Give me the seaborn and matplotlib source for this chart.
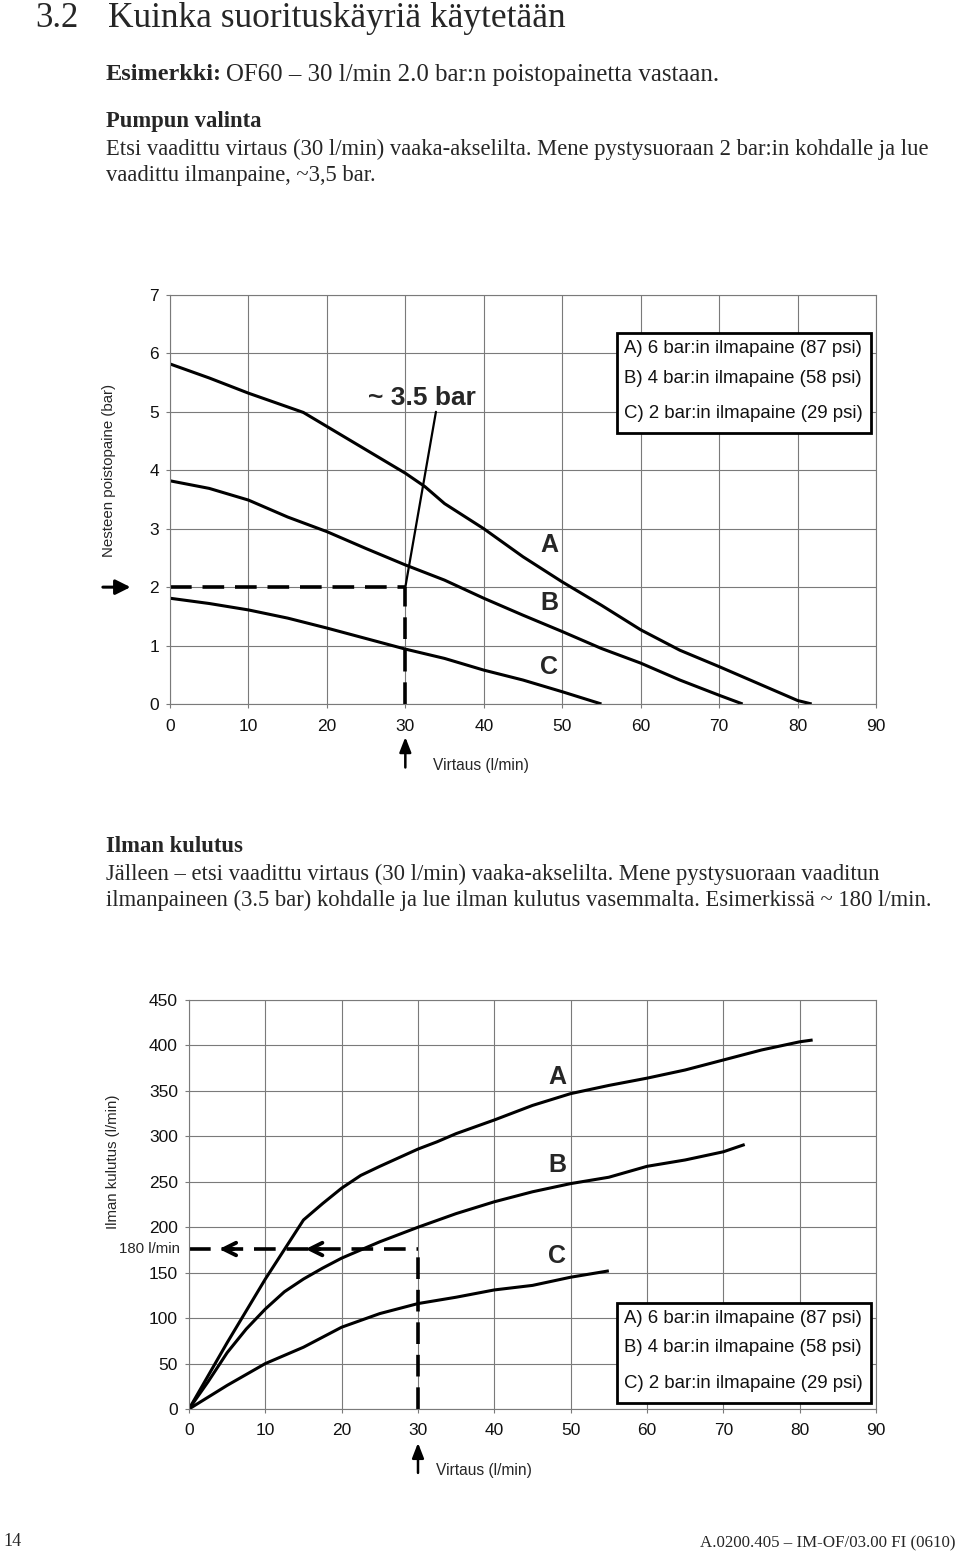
import numpy as np
import pandas as pd
import matplotlib
matplotlib.use("Agg")
import matplotlib.pyplot as plt
from matplotlib.patches import Rectangle
import seaborn as sns

# --- data --------------------------------------------------------------
# discharge pressure (bar) vs flow (l/min)
press_a_x = [0, 5, 10, 17, 20, 25, 30, 32.5, 35, 40, 45, 50, 55, 60, 65, 70, 75, 80, 81.8]
press_a_y = [5.82, 5.58, 5.32, 4.99, 4.75, 4.35, 3.95, 3.72, 3.43, 3.0, 2.52, 2.09, 1.69, 1.27, 0.92, 0.64, 0.35, 0.06, 0.0]
press_b_x = [0, 5, 10, 15, 20, 25, 30, 35, 40, 45, 50, 55, 60, 65, 70, 73]
press_b_y = [3.82, 3.69, 3.49, 3.2, 2.95, 2.66, 2.38, 2.12, 1.81, 1.52, 1.24, 0.95, 0.70, 0.41, 0.15, 0.0]
press_c_x = [0, 5, 10, 15, 20, 25, 30, 35, 40, 45, 50, 55]
press_c_y = [1.81, 1.72, 1.61, 1.47, 1.30, 1.12, 0.94, 0.78, 0.58, 0.41, 0.21, 0.0]

# air consumption (l/min) vs flow (l/min)
air_a_x = [0, 5, 10, 15, 17.5, 20, 22.5, 25, 30, 32.5, 35, 40, 45, 50, 55, 60, 65, 70, 75, 80, 81.7]
air_a_y = [0, 73, 143, 208, 226, 243, 257, 267, 286, 294, 303, 318, 334, 347, 356, 364, 373, 384, 395, 404, 406]
air_b_x = [0, 2.5, 5, 7.5, 10, 12.5, 15, 17.5, 20, 25, 30, 35, 40, 45, 50, 55, 60, 65, 70, 72.8]
air_b_y = [0, 30, 62, 88, 110, 129, 143, 155, 166, 184, 200, 215, 228, 239, 248, 255, 267, 274, 283, 291]
air_c_x = [0, 5, 10, 15, 20, 25, 30, 35, 40, 45, 50, 55]
air_c_y = [0, 26, 50, 68, 90, 105, 116, 123, 131, 136, 145, 152]

curve_names = ["A", "B", "C"]
legend_lines = ["A) 6 bar:in ilmapaine (87 psi)",
                "B) 4 bar:in ilmapaine (58 psi)",
                "C) 2 bar:in ilmapaine (29 psi)"]
x_ticks = list(range(0, 100, 10))
press_ticks = list(range(0, 8))
air_ticks = list(range(0, 500, 50))

example_flow = 30
example_press = 2.0
example_air = 176

press_df = pd.concat([
    pd.DataFrame({"flow": press_a_x, "value": press_a_y, "curve": "A"}),
    pd.DataFrame({"flow": press_b_x, "value": press_b_y, "curve": "B"}),
    pd.DataFrame({"flow": press_c_x, "value": press_c_y, "curve": "C"}),
])
air_df = pd.concat([
    pd.DataFrame({"flow": air_a_x, "value": air_a_y, "curve": "A"}),
    pd.DataFrame({"flow": air_b_x, "value": air_b_y, "curve": "B"}),
    pd.DataFrame({"flow": air_c_x, "value": air_c_y, "curve": "C"}),
])

# --- style ----------------------------------------------------------------
sns.set_style("whitegrid")
plt.rcParams["font.family"] = ["Liberation Sans", "DejaVu Sans"]
GRID = "#7a7a7a"
SERIF = ["Liberation Serif", "DejaVu Serif"]
BODY = 16.3

W, H = 960, 1559
fig = plt.figure(figsize=(W / 100, H / 100), dpi=100)


def px(x, y):
    return x / W, 1 - y / H


def make_axes(left, right, top, bottom):
    return fig.add_axes([left / W, 1 - bottom / H, (right - left) / W, (bottom - top) / H])


def style_axes(ax, yticks, ymax, xpad):
    ax.set_xlim(0, 90)
    ax.set_ylim(0, ymax)
    ax.set_xticks(x_ticks)
    ax.set_yticks(yticks)
    ax.grid(True, color=GRID, lw=0.8)
    for s in ax.spines.values():
        s.set_color(GRID)
        s.set_linewidth(0.8)
    ax.tick_params(axis="both", which="both", direction="out", length=3,
                   width=0.8, color=GRID, labelsize=12.5, labelcolor="#111111",
                   left=True, bottom=True)
    ax.tick_params(axis="x", pad=xpad)
    ax.tick_params(axis="y", pad=5)
    ax.set_xlabel("")
    ax.set_ylabel("")
    leg = ax.get_legend()
    if leg is not None:
        leg.remove()


def legend_box(ax, x0, x1, y0, y1, text_x, text_ys):
    ax.add_patch(Rectangle((x0, y0), x1 - x0, y1 - y0, transform=ax.transAxes,
                           facecolor="white", edgecolor="black", lw=2, zorder=5))
    for t, ty in zip(legend_lines, text_ys):
        ax.text(text_x, ty, t, transform=ax.transAxes, fontsize=13.4,
                va="center", ha="left", color="#111111", zorder=6)


line_kw = dict(color="black", lw=2.2, solid_capstyle="butt")
dash_kw = dict(color="black", lw=2.6, linestyle=(0, (6, 3)), solid_capstyle="butt")

# --- page text --------------------------------------------------------------
fig.text(*px(35, 27), "3.2", fontsize=25, family=SERIF, va="baseline")
fig.text(*px(108, 27), "Kuinka suorituskäyriä käytetään", fontsize=25.5, family=SERIF, va="baseline")
fig.text(*px(106, 75), "Esimerkki:", fontsize=17.5, family=SERIF, weight="bold", va="center")
fig.text(*px(226, 75), "OF60 – 30 l/min 2.0 bar:n poistopainetta vastaan.", fontsize=17.9,
         family=SERIF, va="center")
fig.text(*px(106, 122), "Pumpun valinta", fontsize=BODY, family=SERIF, weight="bold", va="center")
fig.text(*px(106, 149), "Etsi vaadittu virtaus (30 l/min) vaaka-akselilta. Mene pystysuoraan "
         "2 bar:in kohdalle ja lue", fontsize=BODY, family=SERIF, va="center")
fig.text(*px(106, 175), "vaadittu ilmanpaine, ~3,5 bar.", fontsize=BODY, family=SERIF, va="center")

fig.text(*px(106, 847), "Ilman kulutus", fontsize=BODY, family=SERIF, weight="bold", va="center")
fig.text(*px(106, 874), "Jälleen – etsi vaadittu virtaus (30 l/min) vaaka-akselilta. Mene "
         "pystysuoraan vaaditun", fontsize=BODY, family=SERIF, va="center")
fig.text(*px(106, 900), "ilmanpaineen (3.5 bar) kohdalle ja lue ilman kulutus vasemmalta. "
         "Esimerkissä ~ 180 l/min.", fontsize=BODY, family=SERIF, va="center")

fig.text(*px(3, 1542), "14", fontsize=13, family=SERIF, va="center")
fig.text(*px(955, 1543), "A.0200.405 – IM-OF/03.00 FI (0610)", fontsize=12.2, family=SERIF,
         va="center", ha="right")

# --- chart 1: discharge pressure -------------------------------------------
ax1 = make_axes(170, 876, 295, 704)
sns.lineplot(data=press_df, x="flow", y="value", units="curve", estimator=None,
             sort=False, ax=ax1, **line_kw)
style_axes(ax1, press_ticks, 7, 8)

ax1.plot([0, example_flow], [example_press, example_press], **dash_kw)
ax1.plot([example_flow, example_flow], [0, example_press], **dash_kw)
ax1.plot([example_flow, 33.9], [example_press, 5.0], color="black", lw=1.6)
ax1.text(25.3, 5.24, "~ 3.5 bar", fontsize=19, weight="bold", va="center", ha="left")

for name, ly in zip(curve_names, [2.72, 1.73, 0.63]):
    ax1.text(48.3, ly, name, fontsize=18, weight="bold", ha="center", va="center")

legend_box(ax1, 0.633, 0.993, 0.663, 0.907, 0.643, [0.870, 0.797, 0.711])

ax1.annotate("", xy=(-0.052, example_press), xytext=(-0.099, example_press),
             xycoords=("axes fraction", "data"),
             arrowprops=dict(arrowstyle="-|>,head_length=0.9,head_width=0.45",
                             color="black", lw=2.2), annotation_clip=False)
ax1.annotate("", xy=(example_flow, -0.074), xytext=(example_flow, -0.162),
             xycoords=("data", "axes fraction"),
             arrowprops=dict(arrowstyle="-|>,head_length=0.9,head_width=0.35",
                             color="black", lw=1.8), annotation_clip=False)
ax1.text(33.5, -0.15, "Virtaus (l/min)", transform=ax1.get_xaxis_transform(),
         fontsize=11.2, va="center", ha="left")
ax1.text(-0.087, 0.57, "Nesteen poistopaine (bar)", transform=ax1.transAxes,
         rotation=90, fontsize=10.8, va="center", ha="center")

# --- chart 2: air consumption ----------------------------------------------
ax2 = make_axes(189, 876, 1000, 1409)
sns.lineplot(data=air_df, x="flow", y="value", units="curve", estimator=None,
             sort=False, ax=ax2, **line_kw)
style_axes(ax2, air_ticks, 450, 7)

ax2.plot([0, example_flow], [example_air, example_air], **dash_kw)
ax2.plot([example_flow, example_flow], [0, example_air], **dash_kw)
for tip, back in [(3.6, 6.2), (14.9, 17.5)]:
    ax2.annotate("", xy=(tip, example_air), xytext=(back, example_air),
                 arrowprops=dict(arrowstyle="->,head_length=0.9,head_width=0.45",
                                 color="black", lw=2.8))
ax2.text(-0.0136, example_air, "180 l/min", transform=ax2.get_yaxis_transform(),
         fontsize=10.8, ha="right", va="center")

for name, ly in zip(curve_names, [365, 268, 168]):
    ax2.text(48.2, ly, name, fontsize=18, weight="bold", ha="center", va="center")

legend_box(ax2, 0.623, 0.993, 0.014, 0.259, 0.633, [0.222, 0.151, 0.063])

ax2.annotate("", xy=(example_flow, -0.076), xytext=(example_flow, -0.163),
             xycoords=("data", "axes fraction"),
             arrowprops=dict(arrowstyle="-|>,head_length=0.9,head_width=0.35",
                             color="black", lw=1.8), annotation_clip=False)
ax2.text(32.4, -0.15, "Virtaus (l/min)", transform=ax2.get_xaxis_transform(),
         fontsize=11.2, va="center", ha="left")
ax2.text(-0.111, 0.604, "Ilman kulutus (l/min)", transform=ax2.transAxes,
         rotation=90, fontsize=10.8, va="center", ha="center")

fig.savefig("out.png", dpi=100)
